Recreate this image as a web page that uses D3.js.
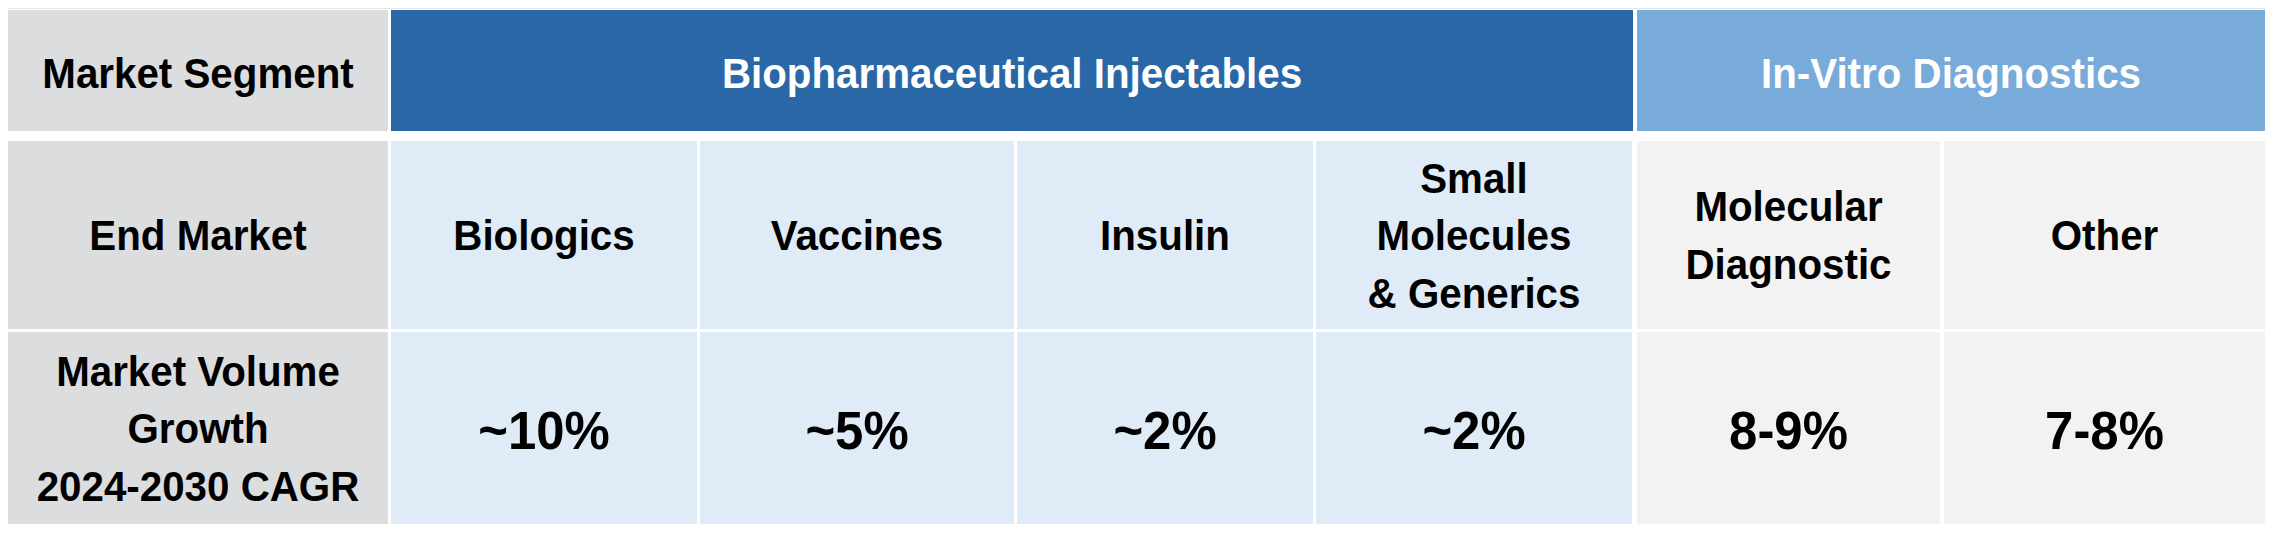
<!DOCTYPE html>
<html>
<head>
<meta charset="utf-8">
<script src="https://cdn.jsdelivr.net/npm/d3@7"></script>
<style>
  html, body { margin: 0; padding: 0; background: #ffffff; }
  svg { display: block; }
  text { font-family: "Liberation Sans", Arial, sans-serif; font-weight: bold; }
</style>
</head>
<body>
<svg id="chart" width="2274" height="536"></svg>
<script>
// ---- data ----
const rowLabels = [["Market Segment"], ["End Market"], ["Market Volume", "Growth", "2024-2030 CAGR"]];
const segments = ["Biopharmaceutical Injectables", "In-Vitro Diagnostics"];
const segmentSpans = [4, 2];
const endMarkets = [["Biologics"], ["Vaccines"], ["Insulin"], ["Small", "Molecules", "& Generics"], ["Molecular", "Diagnostic"], ["Other"]];
const endMarketSegment = [0, 0, 0, 0, 1, 1];
const growthLabels = ["~10%", "~5%", "~2%", "~2%", "8-9%", "7-8%"];

// ---- layout ----
const W = 2274, H = 536;
const labelX0 = 8, labelX1 = 388;
const dataX0 = 391;
// relative column pitches (layout only)
const colPitch = [309, 317, 299, 321, 307, 321];
const colGap = [3, 3, 3, 5, 4, 0];
const rows = [{y0: 10, y1: 131}, {y0: 141, y1: 329}, {y0: 332, y1: 524}];

const segHeaderColor = ["#2A67A7", "#78AADA"];
const segCellColor = ["#DFECF7", "#F2F2F2"];
const labelColor = "#DCDDDF";

const svg = d3.select("#chart");

const starts = [0, ...d3.cumsum(colPitch)];
const x = d3.scaleLinear().domain([0, starts[starts.length - 1]]).range([dataX0, dataX0 + starts[starts.length - 1]]);
const colX = i => x(starts[i]);
const colW = i => x(starts[i + 1]) - x(starts[i]) - colGap[i];

const lineH = 57.5;
const fsLabel = 42, fsValue = 53, capRatio = 0.716;

function drawText(g, lines, cx, cy, fs, color) {
  const n = lines.length;
  const t = g.append("text")
    .attr("text-anchor", "middle")
    .attr("fill", color)
    .attr("font-size", fs)
    .attr("transform", `translate(${cx},0) scale(0.96,1)`);
  lines.forEach((ln, i) => {
    t.append("tspan")
      .attr("x", 0)
      .attr("y", cy + capRatio * fs / 2 + (i - (n - 1) / 2) * lineH)
      .text(ln);
  });
}

// faint top rule
svg.append("line")
  .attr("x1", labelX0).attr("x2", colX(5) + colW(5))
  .attr("y1", rows[0].y0 - 1.5).attr("y2", rows[0].y0 - 1.5)
  .attr("stroke", "#E4E6EA").attr("stroke-width", 1);

// row label column
rowLabels.forEach((lines, r) => {
  const g = svg.append("g");
  g.append("rect")
    .attr("x", labelX0).attr("y", rows[r].y0)
    .attr("width", labelX1 - labelX0).attr("height", rows[r].y1 - rows[r].y0)
    .attr("fill", labelColor);
  drawText(g, lines, (labelX0 + labelX1) / 2, (rows[r].y0 + rows[r].y1) / 2 + (r === 0 ? 2 : 0), fsLabel, "#000");
});

// segment header cells
let start = 0;
segments.forEach((s, k) => {
  const span = segmentSpans[k];
  const xa = colX(start);
  const xb = colX(start + span - 1) + colW(start + span - 1) + (k === 0 ? 1 : 0);
  const g = svg.append("g");
  g.append("rect")
    .attr("x", xa).attr("y", rows[0].y0)
    .attr("width", xb - xa).attr("height", rows[0].y1 - rows[0].y0)
    .attr("fill", segHeaderColor[k]);
  drawText(g, [s], (xa + xb) / 2, (rows[0].y0 + rows[0].y1) / 2 + 2, fsLabel, "#fff");
  start += span;
});

// end market cells
endMarkets.forEach((lines, i) => {
  const g = svg.append("g");
  g.append("rect")
    .attr("x", colX(i)).attr("y", rows[1].y0)
    .attr("width", colW(i)).attr("height", rows[1].y1 - rows[1].y0)
    .attr("fill", segCellColor[endMarketSegment[i]]);
  drawText(g, lines, colX(i) + colW(i) / 2, (rows[1].y0 + rows[1].y1) / 2, fsLabel, "#000");
});

// growth cells
growthLabels.forEach((v, i) => {
  const g = svg.append("g");
  g.append("rect")
    .attr("x", colX(i)).attr("y", rows[2].y0)
    .attr("width", colW(i)).attr("height", rows[2].y1 - rows[2].y0)
    .attr("fill", segCellColor[endMarketSegment[i]]);
  drawText(g, [v], colX(i) + colW(i) / 2, (rows[2].y0 + rows[2].y1) / 2 + 2, fsValue, "#000");
});
</script>
</body>
</html>
